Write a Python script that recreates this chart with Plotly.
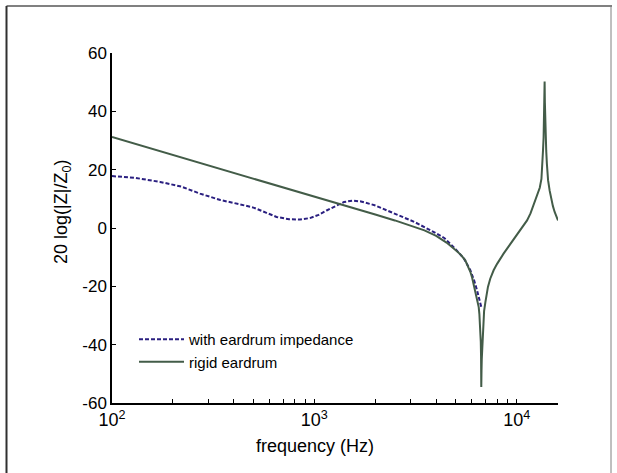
import plotly.graph_objects as go

# ---- data ----
freq_rigid = [100, 200, 300, 500, 700, 1000, 1500, 2000, 2500, 3000, 3500, 4000, 4500,
              5000, 5300, 5570, 5750, 5900, 6020, 6120, 6220, 6300, 6400, 6490, 6540,
              6580, 6620, 6645, 6665, 6676, 6683, 6700, 6720, 6770, 6810, 6850, 6900,
              7000, 7100, 7210, 7400, 7690, 8000, 8300, 8610, 9000, 9400, 9840, 10300,
              10800, 11250, 11700, 12200, 12700, 13000, 13250, 13400, 13490, 13580,
              13650, 13700, 13740, 13780, 13850, 13920, 13990, 14100, 14290, 14550,
              14800, 15100, 15400, 15700, 16000]
db_rigid = [31.2, 25.1, 21.5, 17.0, 14.0, 10.9, 7.2, 4.6, 2.6, 0.9, -0.8, -2.7, -5.0,
            -7.6, -9.2, -11.1, -13.0, -15.0, -17.0, -19.0, -21.0, -22.8, -25.0, -27.1, -29.5,
            -32.0, -35.5, -39.0, -44.0, -49.0, -54.5, -49.0, -45.0, -40.0, -37.3, -31.6, -28.5,
            -25.5, -22.6, -20.2, -17.4, -14.5, -12.3, -10.4, -8.8, -6.9, -5.0, -3.1, -1.2,
            0.8, 2.6, 5.0, 8.3, 11.5, 13.8, 16.8, 21.0, 26.6, 31.0,
            37.0, 43.0, 50.2, 43.0, 35.0, 30.0, 26.6, 22.0, 16.4, 12.8,
            10.0, 7.5, 5.5, 4.0, 2.6]

freq_eardrum = [100, 130, 173, 220, 272, 343, 430, 500, 580, 650, 750, 850, 950, 1050,
                1150, 1270, 1400, 1550, 1700, 1986, 2489, 3118, 3900, 4400, 4970, 5500,
                5900, 6150, 6370, 6550, 6683]
db_eardrum = [17.8, 17.2, 15.8, 14.2, 11.8, 9.6, 8.1, 7.0, 5.2, 3.8, 3.0, 2.9, 3.4, 4.5,
              6.0, 7.6, 8.9, 9.4, 9.1, 7.8, 5.0, 2.1, -1.4, -3.5, -7.1, -10.6,
              -14.5, -17.8, -21.4, -24.5, -27.1]

x_tickvals = [100, 1000, 10000]
x_ticktext = ["10<sup>2</sup>", "10<sup>3</sup>", "10<sup>4</sup>"]
x_minor = [200, 300, 400, 500, 600, 700, 800, 900,
           2000, 3000, 4000, 5000, 6000, 7000, 8000, 9000]
y_tickvals = [-60, -40, -20, 0, 20, 40, 60]
y_ticktext = ["-60", "-40", "-20", "0", "20", "40", "60"]

W, H = 617, 473
L, R, T, B = 112, 59, 53, 70
PW, PH = W - L - R, H - T - B
FONT = "Liberation Sans, Arial, sans-serif"

def px(xp):
    return (xp - L) / PW

def py(yp):
    return 1 - (yp - T) / PH

fig = go.Figure()
fig.add_trace(go.Scatter(x=freq_eardrum, y=db_eardrum, mode="lines",
                         name="with eardrum impedance",
                         line=dict(color="#2a1f80", width=2, dash="4px,2px")))
fig.add_trace(go.Scatter(x=freq_rigid, y=db_rigid, mode="lines",
                         name="rigid eardrum",
                         line=dict(color="#435c48", width=2)))

fig.update_layout(
    width=W, height=H,
    margin=dict(l=L, r=R, t=T, b=B),
    paper_bgcolor="white", plot_bgcolor="white",
    font=dict(family=FONT, color="black"),
    showlegend=True,
    legend=dict(x=px(134), y=py(323), xanchor="left", yanchor="top",
                bgcolor="rgba(0,0,0,0)", font=dict(size=15, family=FONT),
                itemwidth=45),
    xaxis=dict(type="log", range=[2, 4.2041], showline=True, linecolor="black",
               linewidth=1.5, ticks="inside", ticklen=4, tickcolor="black",
               tickvals=x_tickvals, ticktext=x_ticktext, showgrid=False,
               zeroline=False, tickfont=dict(size=18, family=FONT),
               minor=dict(ticks="inside", ticklen=4, tickcolor="black",
                          tickvals=x_minor, showgrid=False)),
    yaxis=dict(range=[-60, 60], showline=True, linecolor="black", linewidth=1.5,
               ticks="inside", ticklen=4, tickcolor="black",
               tickvals=y_tickvals, ticktext=y_ticktext, showgrid=False,
               zeroline=False, tickfont=dict(size=17, family=FONT)),
    annotations=[
        dict(text="frequency (Hz)", x=px(315), y=py(446), xref="paper", yref="paper",
             showarrow=False, font=dict(size=18, family=FONT), xanchor="center",
             yanchor="middle"),
        dict(text="20 log(|Z|/Z<sub>0</sub>)", x=px(62), y=py(212), xref="paper",
             yref="paper", showarrow=False, textangle=-90,
             font=dict(size=18, family=FONT), xanchor="center", yanchor="middle"),
    ],
    shapes=[
        dict(type="line", xref="paper", yref="paper", x0=px(6.5), x1=px(612),
             y0=py(6), y1=py(6), line=dict(color="#808080", width=2)),
        dict(type="line", xref="paper", yref="paper", x0=px(6.5), x1=px(6.5),
             y0=py(6), y1=py(473), line=dict(color="#303030", width=2)),
        dict(type="line", xref="paper", yref="paper", x0=px(611), x1=px(611),
             y0=py(6), y1=py(473), line=dict(color="#808080", width=1)),
    ],
)

fig.write_html("out.html")
